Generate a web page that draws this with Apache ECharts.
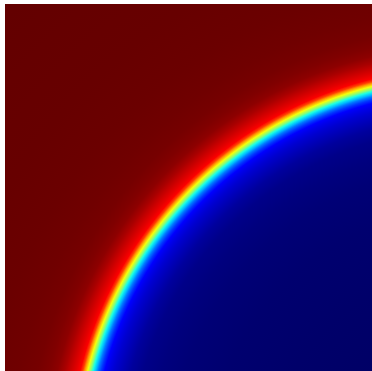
<!DOCTYPE html>
<html>
<head>
<meta charset="utf-8">
<script src="https://cdn.jsdelivr.net/npm/echarts@6/dist/echarts.min.js"></script>
<style>
html,body{margin:0;padding:0;background:#ffffff;}
#chart{width:372px;height:371px;}
</style>
</head>
<body>
<div id="chart"></div>
<script>
// Field centre (axis units, plot spans 0..1 on both axes; centre lies beyond the bottom-right corner)
const fieldCenter = [1.265, -0.264];

// Radial profile: distance from the field centre (axis units) and field value
const radius = [1.828, 1.637, 1.473, 1.337, 1.255, 1.206, 1.176, 1.154, 1.135, 1.119,
                1.105, 1.094, 1.087, 1.081, 1.074, 1.066, 1.060, 1.053, 1.046, 1.038,
                1.029, 1.018, 1.004, 0.985, 0.960, 0.928, 0.879, 0.819, 0.709, 0.546, 0.327];
const fieldValue = [0.978, 0.972, 0.965, 0.954, 0.942, 0.925, 0.900, 0.865, 0.825, 0.785,
                    0.750, 0.720, 0.680, 0.625, 0.565, 0.505, 0.445, 0.395, 0.350, 0.315,
                    0.285, 0.255, 0.225, 0.195, 0.160, 0.125, 0.095, 0.075, 0.056, 0.042, 0.030];

const colorScale = ['#00005a', '#000090', '#0000ff', '#00ffff', '#ffff00', '#ff0000', '#900000', '#5a0000'];

const fieldData = radius.map((r, i) => [r, fieldValue[i]]);

function renderDisc(params, api) {
  const idx = params.dataIndexInside;
  const c = api.coord(fieldCenter);
  const r = api.size([api.value(0), 0])[0];
  const color = api.visual('color');
  let fill = color;
  if (idx + 1 < params.dataInsideLength) {
    const rIn = api.size([api.value(0, idx + 1), 0])[0];
    const colorIn = api.visual('color', idx + 1);
    fill = new echarts.graphic.RadialGradient(c[0], c[1], r, [
      { offset: Math.max(0, Math.min(1, rIn / r)), color: colorIn },
      { offset: 1, color: color }
    ], true);
  }
  return {
    type: 'circle',
    shape: { cx: c[0], cy: c[1], r: r },
    style: { fill: fill, stroke: null }
  };
}

const chart = echarts.init(document.getElementById('chart'), null, { renderer: 'canvas' });
chart.setOption({
  animation: false,
  backgroundColor: '#ffffff',
  grid: { left: 5.5, top: 4, right: 0, bottom: 0 },
  xAxis: { type: 'value', min: 0, max: 1, show: false },
  yAxis: { type: 'value', min: 0, max: 1, show: false },
  visualMap: {
    show: false,
    type: 'continuous',
    min: 0,
    max: 1,
    dimension: 1,
    seriesIndex: 0,
    inRange: { color: colorScale }
  },
  series: [{
    type: 'custom',
    coordinateSystem: 'cartesian2d',
    clip: true,
    renderItem: renderDisc,
    encode: { x: 0, y: 1 },
    data: fieldData
  }]
});
</script>
</body>
</html>
